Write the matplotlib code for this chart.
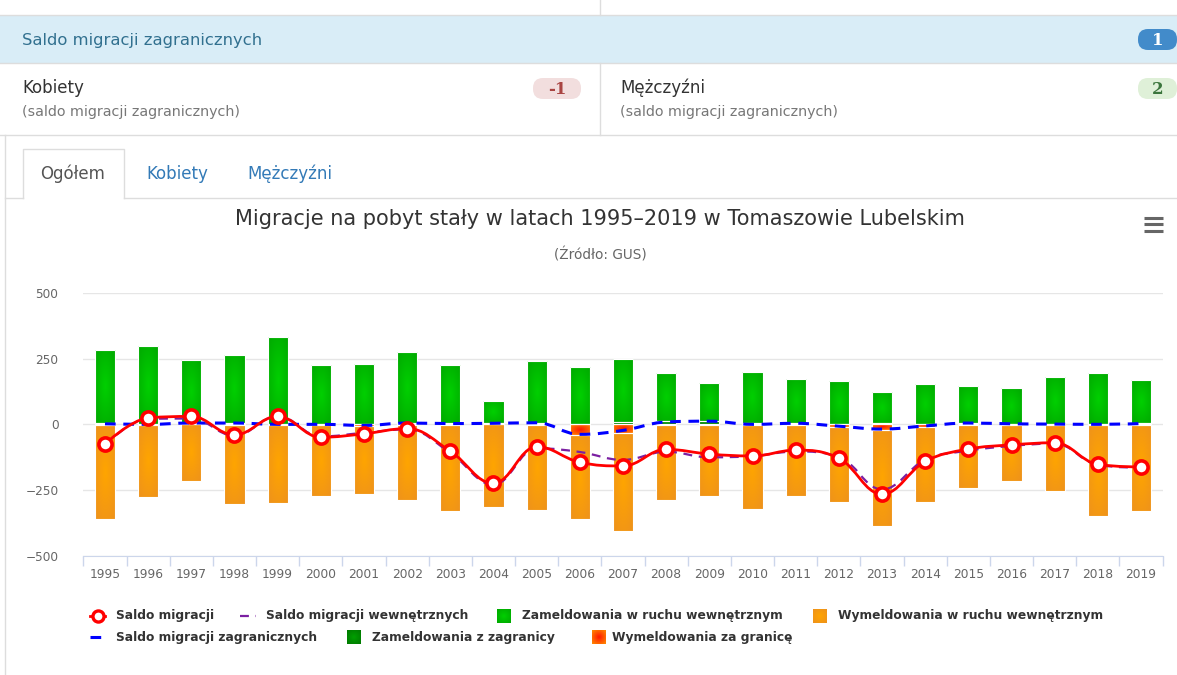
import numpy as np
import matplotlib
matplotlib.use('Agg')
import matplotlib.pyplot as plt
from matplotlib.path import Path
from matplotlib.patches import PathPatch, Rectangle, FancyBboxPatch
from matplotlib.colors import to_rgb

# Data (Tomaszów Lubelski, 1995-2019)
years = [str(y) for y in range(1995, 2020)]
zameld_wew = [279, 295, 239, 259, 327, 223, 229, 269, 220, 86, 232, 214, 240,
              182, 144, 195, 166, 161, 117, 150, 139, 134, 178, 192, 163]
zameld_zagr = [4, 2, 5, 6, 3, 2, 1, 6, 5, 4, 7, 2, 8,
               12, 14, 4, 6, 3, 5, 3, 6, 3, 3, 2, 4]
wymeld_wew = [357, 274, 217, 302, 296, 269, 261, 288, 328, 315, 323, 319, 375,
              286, 269, 316, 269, 284, 364, 285, 239, 216, 251, 346, 328]
wymeld_zagr = [2, 2, 0, 1, 3, 2, 5, 1, 2, 0, 1, 40, 31,
               3, 2, 4, 2, 10, 23, 9, 1, 1, 2, 2, 1]
saldo = [-75, 24, 30, -40, 30, -49, -36, -16, -102, -224, -85, -144, -158,
         -95, -113, -120, -98, -129, -265, -141, -94, -78, -70, -152, -162]
saldo_wew = [-78, 21, 22, -43, 31, -46, -32, -19, -108, -229, -91, -105, -135,
             -104, -125, -121, -103, -123, -247, -135, -100, -82, -73, -154, -165]
saldo_zagr = [2, 0, 5, 5, 0, 0, -4, 5, 3, 4, 6, -38, -23,
              9, 12, 0, 4, -7, -18, -6, 5, 2, 1, 0, 3]
y_ticks = [-500, -250, 0, 250, 500]

W, H = 1177, 675
plt.rcParams['font.family'] = ['DejaVu Sans']

# gradient colours (centre, edge)
green = ('#00d000', '#00a800')
dgreen = ('#00a000', '#007800')
orange = ('#ffa500', '#ee921c')
redor = ('#ff1800', '#ff8a00')


def radial(c0, c1, n=24):
    u, v = np.meshgrid(np.linspace(-1, 1, n), np.linspace(-1, 1, n))
    r = np.clip(np.sqrt(u ** 2 + v ** 2) / np.sqrt(2), 0, 1)[..., None]
    return np.array(to_rgb(c0)) * (1 - r) + np.array(to_rgb(c1)) * r


def fill_gradient(axx, patch, cols, z):
    x0, y0 = patch.get_x(), patch.get_y()
    w, h = patch.get_width(), patch.get_height()
    if h == 0:
        return
    im = axx.imshow(radial(*cols), extent=(x0, x0 + w, min(y0, y0 + h), max(y0, y0 + h)),
                    aspect='auto', interpolation='bilinear', zorder=z)
    im.set_clip_path(patch)


fig = plt.figure(figsize=(W / 100, H / 100), dpi=100)

# background axes in pixel coordinates for the page elements
bg = fig.add_axes([0, 0, 1, 1], zorder=0)
bg.set_xlim(0, W)
bg.set_ylim(H, 0)
bg.axis('off')

border = '#dddddd'
bg.plot([600, 600], [0, 15], color=border, lw=1)
bg.add_patch(Rectangle((0, 15), W, 48, facecolor='#d9edf7', edgecolor='none'))
bg.plot([0, W], [15, 15], color=border, lw=1)
bg.plot([0, W], [63, 63], color=border, lw=1)
bg.text(22, 40, 'Saldo migracji zagranicznych', fontsize=11.8, color='#31708f',
        va='center', ha='left')


def badge(x0, x1, y0, y1, fc, txt, tc):
    bg.add_patch(FancyBboxPatch((x0, y0), x1 - x0, y1 - y0,
                                boxstyle='round,pad=0,rounding_size=10',
                                facecolor=fc, edgecolor='none'))
    bg.text((x0 + x1) / 2, (y0 + y1) / 2 + 1, txt, fontsize=12, color=tc,
            fontweight='bold', family='DejaVu Serif', ha='center', va='center')


badge(1138, 1177, 29, 50, '#428bca', '1', 'white')

bg.plot([600, 600], [63, 135], color=border, lw=1)
bg.plot([0, W], [135, 135], color=border, lw=1)
bg.text(22, 88, 'Kobiety', fontsize=12, color='#333333', va='center')
bg.text(22, 112, '(saldo migracji zagranicznych)', fontsize=10.3, color='#777777',
        va='center')
badge(533, 581, 78, 99, '#f2dede', '-1', '#a94442')
bg.text(620, 88, 'Mężczyźni', fontsize=12, color='#333333', va='center')
bg.text(620, 112, '(saldo migracji zagranicznych)', fontsize=10.3, color='#777777',
        va='center')
badge(1138, 1177, 78, 99, '#dff0d8', '2', '#3c763d')

# chart panel + tabs
bg.plot([5, 5], [135, H], color=border, lw=1)
bg.plot([5, 23], [198, 198], color=border, lw=1)
bg.plot([124, W], [198, 198], color=border, lw=1)
bg.plot([23, 23, 124, 124], [198, 149, 149, 198], color=border, lw=1)
bg.text(73, 174, 'Ogółem', fontsize=12, color='#555555', ha='center', va='center')
bg.text(177, 174, 'Kobiety', fontsize=12, color='#337ab7', ha='center', va='center')
bg.text(290, 174, 'Mężczyźni', fontsize=12, color='#337ab7', ha='center', va='center')

bg.text(600, 219, 'Migracje na pobyt stały w latach 1995–2019 w Tomaszowie Lubelskim',
        fontsize=15, color='#333333', ha='center', va='center')
bg.text(600, 255, '(Źródło: GUS)', fontsize=9.8, color='#666666', ha='center',
        va='center')
for yy in [217.5, 224, 230.5]:
    bg.plot([1144, 1163], [yy, yy], color='#666666', lw=2.2, solid_capstyle='butt')

# chart axes
left, right, top, bottom = 83.4, 1162.6, 292.7, 556
ax = fig.add_axes([left / W, 1 - bottom / H, (right - left) / W, (bottom - top) / H],
                  zorder=1)
ax.set_facecolor('none')
x = np.arange(len(years))

for yv in y_ticks:
    ax.axhline(yv, color='#e6e6e6', lw=1, zorder=0)

bw = 0.47
neg_zagr = [-v for v in wymeld_zagr]
stacks = [
    (ax.bar(x, zameld_zagr, bw, color=dgreen[0], edgecolor='white', lw=0.8, zorder=2), dgreen),
    (ax.bar(x, zameld_wew, bw, bottom=zameld_zagr, color=green[0], edgecolor='white',
            lw=0.8, zorder=2), green),
    (ax.bar(x, neg_zagr, bw, color=redor[0], edgecolor='white', lw=0.8, zorder=2), redor),
    (ax.bar(x, [-v for v in wymeld_wew], bw, bottom=neg_zagr, color=orange[0],
            edgecolor='white', lw=0.8, zorder=2), orange),
]
for bars, cols in stacks:
    for p in bars:
        fill_gradient(ax, p, cols, 2.1)
        # white outline on top of the gradient
        ax.add_patch(Rectangle((p.get_x(), p.get_y()), p.get_width(), p.get_height(),
                               fill=False, edgecolor='white', lw=0.8, zorder=2.2))

ax.set_xlim(-0.5, len(years) - 0.5)
ax.set_ylim(-500, 500)


def spline(xs, ys):
    # Highcharts-like spline through the points
    n = len(xs)
    lc = [None] * n
    rc = [None] * n
    for i in range(1, n - 1):
        xp, yp = xs[i - 1], ys[i - 1]
        xc, yc = xs[i], ys[i]
        xn, yn = xs[i + 1], ys[i + 1]
        lx = (1.5 * xc + xp) / 2.5
        ly = (1.5 * yc + yp) / 2.5
        rx = (1.5 * xc + xn) / 2.5
        ry = (1.5 * yc + yn) / 2.5
        corr = (ry - ly) * (rx - xc) / (rx - lx) + yc - ry
        ly += corr
        ry += corr
        if ly > yp and ly > yc:
            ly = max(yp, yc)
            ry = 2 * yc - ly
        elif ly < yp and ly < yc:
            ly = min(yp, yc)
            ry = 2 * yc - ly
        if ry > yn and ry > yc:
            ry = max(yn, yc)
            ly = 2 * yc - ry
        elif ry < yn and ry < yc:
            ry = min(yn, yc)
            ly = 2 * yc - ry
        lc[i] = (lx, ly)
        rc[i] = (rx, ry)
    verts = [(xs[0], ys[0])]
    codes = [Path.MOVETO]
    for i in range(1, n):
        c1 = rc[i - 1] if rc[i - 1] is not None else (xs[i - 1], ys[i - 1])
        c2 = lc[i] if lc[i] is not None else (xs[i], ys[i])
        verts += [c1, c2, (xs[i], ys[i])]
        codes += [Path.CURVE4] * 3
    return Path(verts, codes)


ax.add_patch(PathPatch(spline(x, saldo_zagr), fill=False, edgecolor='#0000ff',
                       lw=2.2, linestyle=(0, (3.5, 2.5)), zorder=3))
ax.add_patch(PathPatch(spline(x, saldo_wew), fill=False, edgecolor='#7b1fa2',
                       lw=1.6, linestyle=(0, (4, 3)), zorder=4))
ax.add_patch(PathPatch(spline(x, saldo), fill=False, edgecolor='#ff0000',
                       lw=2.0, zorder=5))
ax.plot(x, saldo, ls='none', marker='o', ms=9.5, mfc='white', mec='#ff0000',
        mew=2.6, zorder=6)

for s in ['top', 'right', 'left']:
    ax.spines[s].set_visible(False)
ax.spines['bottom'].set_color('#ccd6eb')
ax.set_yticks(y_ticks)
ax.set_yticklabels([str(v).replace('-', '\u2212') for v in y_ticks])
ax.tick_params(axis='y', length=0, pad=18, labelsize=8.7, labelcolor='#666666')
ax.set_xticks(x)
ax.set_xticklabels(years)
ax.tick_params(axis='x', length=0, pad=9, labelsize=8.8, labelcolor='#666666')
ax.set_xticks(np.arange(-0.5, len(years), 1), minor=True)
ax.tick_params(axis='x', which='minor', length=7, color='#ccd6eb', width=1)

# legend (pixel coordinates)
lg_font = dict(fontsize=8.8, fontweight='bold', color='#333333', va='center')
r1, r2 = 616, 637


def lg_box(x0, yc, cols):
    p = Rectangle((x0, yc - 7), 14, 14, facecolor=cols[0], edgecolor='none')
    bg.add_patch(p)
    fill_gradient(bg, p, cols, 3)


bg.plot([90, 105], [r1, r1], color='#ff0000', lw=2.0)
bg.plot([97.5], [r1], marker='o', ms=8, mfc='white', mec='#ff0000', mew=2.4)
bg.text(116, r1, 'Saldo migracji', **lg_font)
bg.plot([240, 256], [r1, r1], color='#7b1fa2', lw=1.6, linestyle=(0, (4, 3)))
bg.text(266, r1, 'Saldo migracji wewnętrznych', **lg_font)
lg_box(497, r1, green)
bg.text(522, r1, 'Zameldowania w ruchu wewnętrznym', **lg_font)
lg_box(813, r1, orange)
bg.text(838, r1, 'Wymeldowania w ruchu wewnętrznym', **lg_font)
bg.plot([90, 106], [r2, r2], color='#0000ff', lw=2.2, linestyle=(0, (3.5, 2.5)))
bg.text(116, r2, 'Saldo migracji zagranicznych', **lg_font)
lg_box(347, r2, dgreen)
bg.text(372, r2, 'Zameldowania z zagranicy', **lg_font)
lg_box(592, r2, redor)
bg.text(612, r2, 'Wymeldowania za granicę', **lg_font)
bg.set_xlim(0, W)
bg.set_ylim(H, 0)

fig.savefig('out.png', dpi=100)
